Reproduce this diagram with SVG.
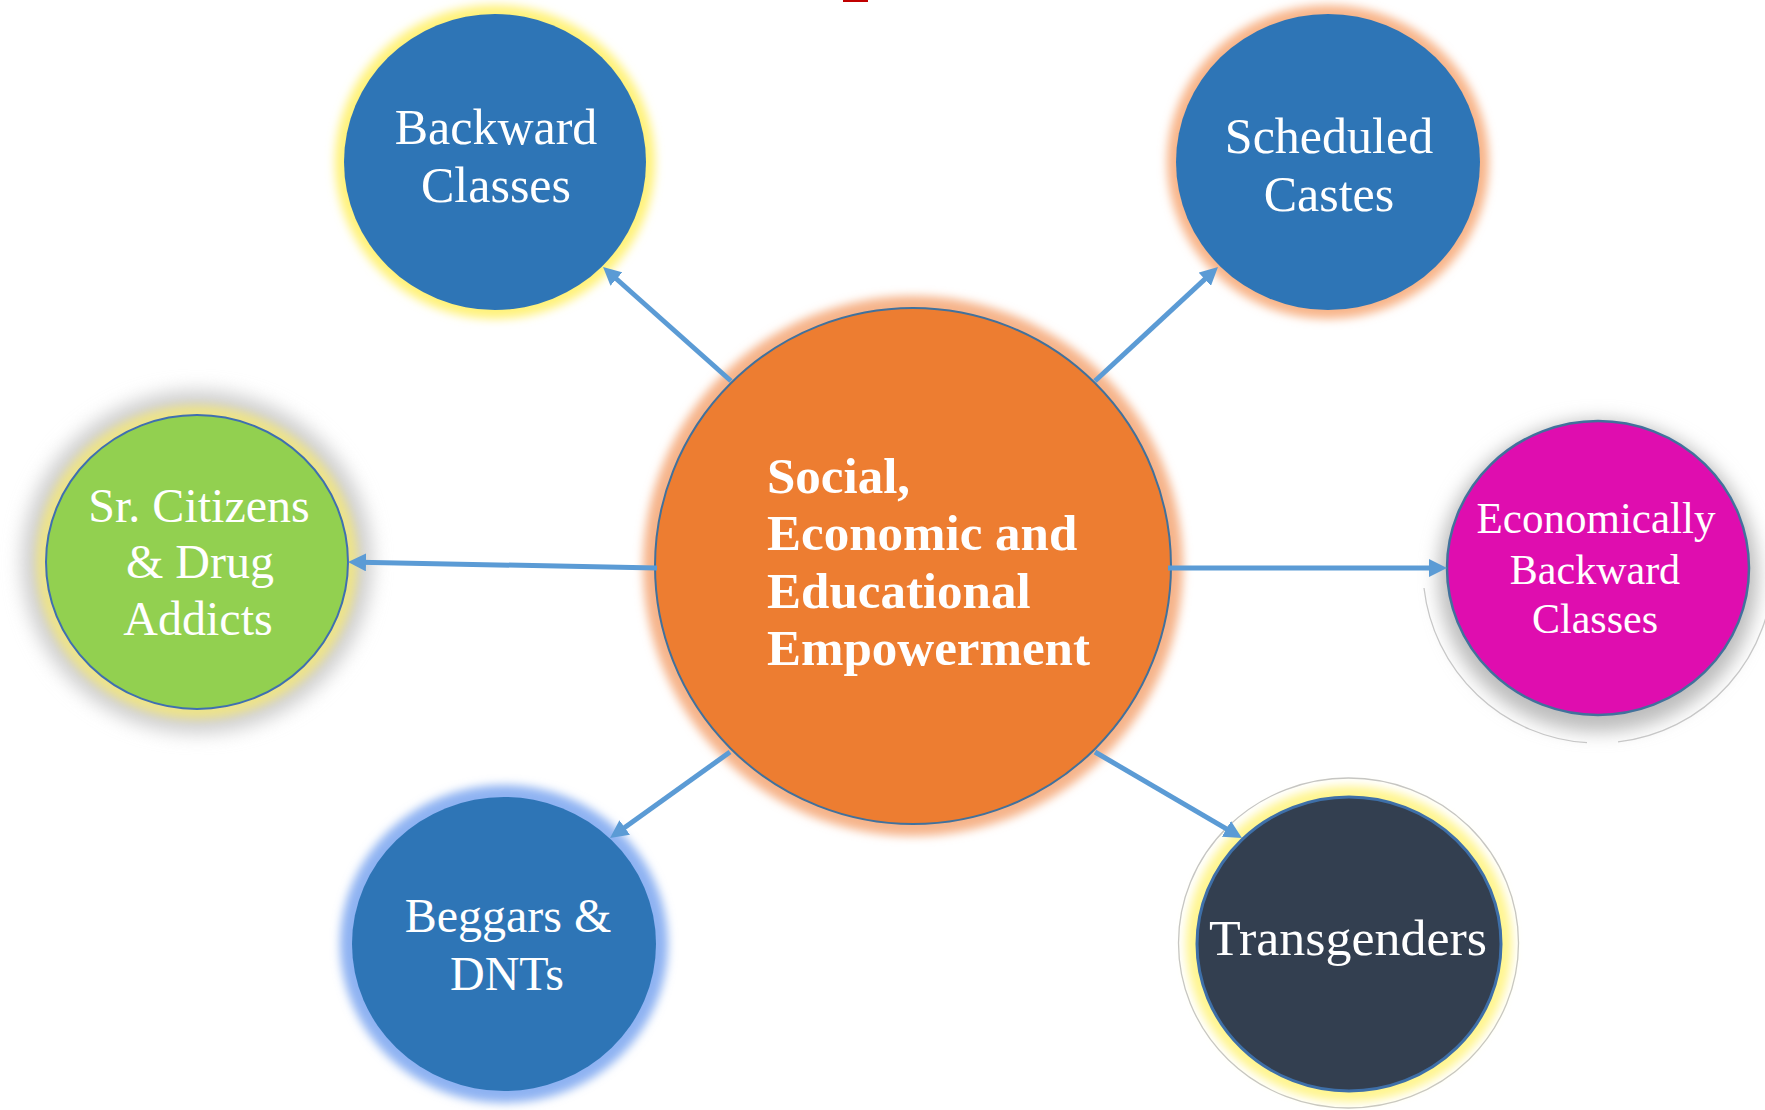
<svg xmlns="http://www.w3.org/2000/svg" width="1765" height="1110" viewBox="0 0 1765 1110">
  <defs>
    <style>
      .lbl { font-family: "Liberation Serif", "Times New Roman", serif; fill: #ffffff; text-anchor: middle; }
      .ctr { font-family: "Liberation Serif", "Times New Roman", serif; font-size: 51px; font-weight: bold; fill: #ffffff; }
      .conn { stroke: #5B9BD5; stroke-width: 5; fill: none; marker-end: url(#arrow); }
      .blue { fill: #2E75B6; }
    </style>
    <marker id="arrow" viewBox="0 0 18 18" refX="6" refY="9" markerUnits="userSpaceOnUse" markerWidth="18" markerHeight="18" orient="auto">
      <path d="M0,0 L18,9 L0,18 z" fill="#5B9BD5"/>
    </marker>
    <filter id="glow" x="-30%" y="-30%" width="160%" height="160%">
      <feGaussianBlur stdDeviation="5"/>
    </filter>
    <filter id="glowWide" x="-30%" y="-30%" width="160%" height="160%">
      <feGaussianBlur stdDeviation="9"/>
    </filter>
  </defs>

  <rect x="843" y="0" width="25" height="2" fill="#C00000"/>

  <g id="node-backward-classes">
    <ellipse cx="495" cy="162" rx="160" ry="157" fill="#FFF27A" filter="url(#glow)"/>
    <ellipse cx="495" cy="162" rx="151" ry="148" class="blue"/>
    <text class="lbl" x="496" y="144" font-size="50">Backward</text>
    <text class="lbl" x="496" y="202" font-size="50">Classes</text>
  </g>

  <g id="node-scheduled-castes">
    <ellipse cx="1328" cy="162" rx="161" ry="157" fill="#F8B58A" filter="url(#glow)"/>
    <ellipse cx="1328" cy="162" rx="152" ry="148" class="blue"/>
    <text class="lbl" x="1329" y="153" font-size="50">Scheduled</text>
    <text class="lbl" x="1329" y="211" font-size="50">Castes</text>
  </g>

  <g id="node-sr-citizens">
    <ellipse cx="197" cy="562" rx="176" ry="172" fill="#D0D0D0" filter="url(#glowWide)"/>
    <ellipse cx="197" cy="562" rx="161" ry="157" fill="#EDE38A" filter="url(#glow)"/>
    <ellipse cx="197" cy="562" rx="151" ry="147" fill="#92D050" stroke="#3F6FB0" stroke-width="2"/>
    <text class="lbl" x="199" y="522" font-size="48">Sr. Citizens</text>
    <text class="lbl" x="200" y="578" font-size="48">&amp; Drug</text>
    <text class="lbl" x="198" y="635" font-size="48">Addicts</text>
  </g>

  <g id="node-economically-backward">
    <path d="M1424,588 A175,175 0 0 0 1587,742.7 M1618,741.9 A175,175 0 0 0 1773,568" fill="none" stroke="#C8C8C8" stroke-width="1.3"/>
    <ellipse cx="1598" cy="576" rx="160" ry="156" fill="#BDBDBD" filter="url(#glowWide)"/>
    <ellipse cx="1598" cy="568" rx="151" ry="147" fill="#DF0DAF" stroke="#41719C" stroke-width="2.5"/>
    <text class="lbl" x="1596" y="533" font-size="45" textLength="239" lengthAdjust="spacingAndGlyphs">Economically</text>
    <text class="lbl" x="1595" y="584" font-size="42">Backward</text>
    <text class="lbl" x="1595" y="633" font-size="42">Classes</text>
  </g>

  <g id="node-beggars-dnts">
    <ellipse cx="504" cy="944" rx="164" ry="159" fill="#8EB2F2" filter="url(#glow)"/>
    <ellipse cx="504" cy="944" rx="152" ry="147" class="blue"/>
    <text class="lbl" x="508" y="932" font-size="48">Beggars &amp;</text>
    <text class="lbl" x="507" y="990" font-size="48">DNTs</text>
  </g>

  <g id="node-transgenders">
    <ellipse cx="1348.5" cy="943" rx="170" ry="165" fill="#ffffff" stroke="#C4C4C4" stroke-width="1.3"/>
    <ellipse cx="1349" cy="944" rx="163" ry="158" fill="#FFF590" filter="url(#glow)"/>
    <ellipse cx="1349" cy="944" rx="152" ry="147" fill="#333F50" stroke="#3E6FA8" stroke-width="3"/>
    <text class="lbl" x="1348" y="955" font-size="50" textLength="278" lengthAdjust="spacingAndGlyphs">Transgenders</text>
  </g>

  <g id="node-center">
    <circle cx="913" cy="566" r="270" fill="#F6B48A" filter="url(#glow)"/>
    <circle cx="913" cy="566" r="258" fill="#ED7D31" stroke="#41719C" stroke-width="2"/>
    <text class="ctr" x="767" y="493">Social,</text>
    <text class="ctr" x="767" y="550">Economic and</text>
    <text class="ctr" x="767" y="608">Educational</text>
    <text class="ctr" x="767" y="665">Empowerment</text>
  </g>

  <g id="connectors">
    <line class="conn" x1="731" y1="381" x2="612" y2="275"/>
    <line class="conn" x1="1095" y1="381" x2="1209.2" y2="275.2"/>
    <line class="conn" x1="657" y1="568" x2="360" y2="562.2"/>
    <line class="conn" x1="1168" y1="568" x2="1435" y2="568"/>
    <line class="conn" x1="730" y1="752" x2="619.8" y2="831"/>
    <line class="conn" x1="1095" y1="752" x2="1231.6" y2="831.9"/>
  </g>
</svg>
